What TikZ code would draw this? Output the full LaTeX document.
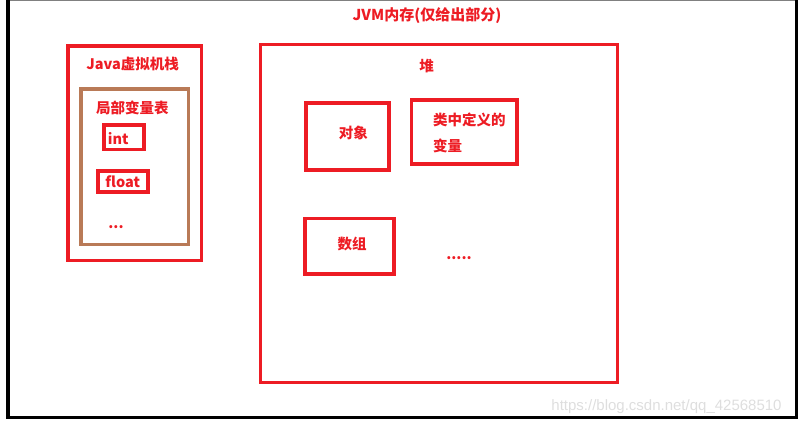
\documentclass[tikz,border=0pt]{standalone}
\usepackage{fontspec}
\usepackage{tikz}
\newfontfamily\cjk{Noto Sans CJK SC}
\setsansfont{Liberation Sans}
\definecolor{jvmred}{RGB}{237,28,36}
\definecolor{jvmbrown}{RGB}{185,122,87}
\tikzset{
  redbox/.style = {draw=jvmred, line width=3.6pt},
  brownbox/.style = {draw=jvmbrown, line width=3.6pt},
  lbl/.style = {text=jvmred, inner sep=0pt, font=\cjk\bfseries\fontsize{14.5}{18}\selectfont}
}

\begin{document}
\begin{tikzpicture}[x=1pt, y=-1pt]
\useasboundingbox (0,0) rectangle (798,425);
% screenshot frame
\draw [gray, line width=1pt] (8,1) -- (796.5,1);
\draw [black, line width=3.6pt] (8,0.5) -- (8,417.5) -- (796.5,417.5) -- (796.5,0.5);
\node [lbl, font=\cjk\bfseries\fontsize{15}{18}\selectfont] (title) at (427,16) {JVM内存(仅给出部分)};
% stack
\draw [redbox] (68,46.3) rectangle (201.3,260.5);
\node [lbl] (stack) at (132.7,64) {Java虚拟机栈};
\draw [brownbox] (81,89.3) rectangle (188.3,244.5);
\node [lbl] (locals) at (132.3,108.3) {局部变量表};
\draw [redbox] (103.7,125) rectangle (143.8,149.5);
\node [lbl] (int) at (118.3,139) {int};
\draw [redbox] (98,171) rectangle (148,192);
\node [lbl] (float) at (122.7,181.5) {float};
\node [lbl, anchor=base] (dots) at (116,228) {...};
% heap
\draw [redbox] (260.5,44.7) rectangle (617.5,382.3);
\node [lbl] (heap) at (426.7,66) {堆};
\draw [redbox] (306,103.3) rectangle (389,170);
\node [lbl] (obj) at (353.3,132.7) {对象};
\draw [redbox] (411.3,100.3) rectangle (516.7,164.3);
\node [lbl, anchor=west] (field1) at (433,120) {类中定义的};
\node [lbl, anchor=west] (field2) at (433,146) {变量};
\draw [redbox] (305,218.3) rectangle (394,274);
\node [lbl] (arr) at (352,244) {数组};
\node [lbl, anchor=base] (more) at (459,259.5) {.....};
% watermark
\node [text=black!13, inner sep=0pt, font=\sffamily\fontsize{15}{18}\selectfont] (mark) at (666.5,406.7) {https://blog.csdn.net/qq\_42568510};
\end{tikzpicture}
\end{document}
